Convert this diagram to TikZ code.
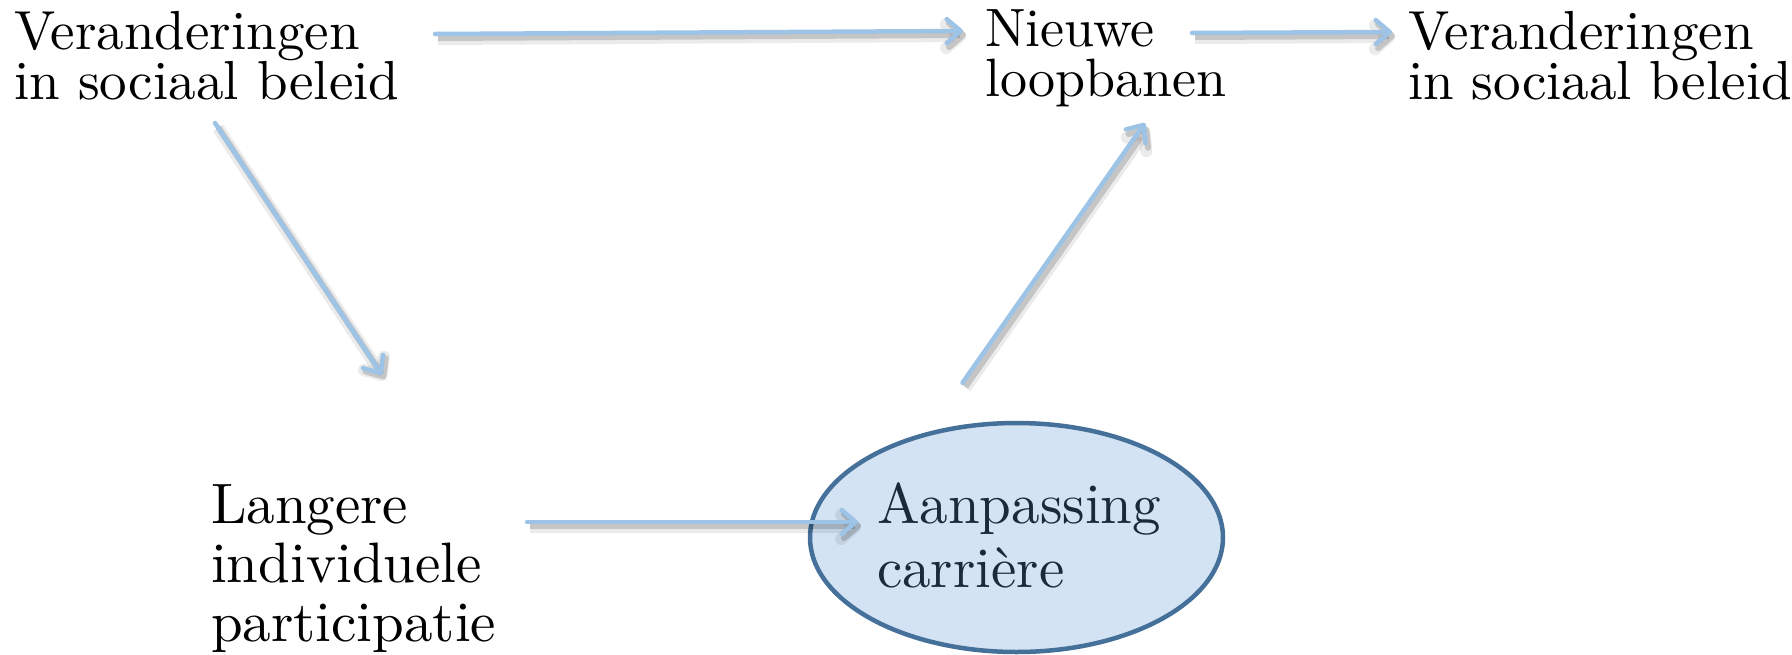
\documentclass[tikz,border=0pt]{standalone}
\usepackage{fontspec}
\setmainfont{lmroman10-regular.otf}
\usetikzlibrary{arrows.meta,shapes.geometric,calc}
\definecolor{arrowblue}{HTML}{9DC3E6}
\definecolor{ellfill}{HTML}{D3E3F3}
\definecolor{elldraw}{HTML}{44709A}
\definecolor{elltext}{HTML}{1B2A3A}
\tikzset{
  lbl/.style={anchor=base west, inner sep=0pt, outer sep=0pt},
  arr/.style={draw=arrowblue, line width=4.5pt, line cap=round, line join=round,
    -{Straight Barb[length=14pt,width=24pt,round]},
    preaction={draw=black, draw opacity=0.08, line width=12pt,
      transform canvas={shift={(3,5)}}},
    preaction={draw=black, draw opacity=0.16, line width=6pt,
      transform canvas={shift={(3,4)}}}},
}
\newcommand{\txt}[4]{\parbox[t]{#1pt}{\fontsize{#4}{#2}\selectfont\lineskiplimit=-100pt\raggedright #3}}
\begin{document}
\begin{tikzpicture}[x=1pt,y=-1pt]
\useasboundingbox (0,0) rectangle (1792,654);
% ellipse
\node[ellipse, draw=elldraw, line width=4.5pt, fill=ellfill, minimum width=413pt, minimum height=229pt, inner sep=0pt] (ell) at (1016.5,537.5) {};
% texts
\node[lbl] (v1) at (14,49) {\txt{400}{50}{Veranderingen\\in sociaal beleid}{55}};
\node[lbl] (nl) at (985,46) {\txt{300}{50}{Nieuwe\\loopbanen}{54}};
\node[lbl] (v2) at (1408,49) {\txt{384}{50}{Veranderingen\\in sociaal beleid}{55}};
\node[lbl] (lp) at (211,523) {\txt{320}{59}{Langere\\individuele\\participatie}{57}};
\node[lbl, text=elltext] (ac) at (877,523) {\txt{320}{64}{Aanpassing\\carri\`ere}{57}};
% arrows
\draw[arr] ($(v1.base west)+(421,-15)$) -- ($(nl.base west)+(-22,-15)$);
\draw[arr] ($(nl.base west)+(207,-13)$) -- ($(v2.base west)+(-16,-17)$);
\draw[arr] ($(v1.base west)+(201,74)$) -- ($(lp.base west)+(171,-148)$);
\draw[arr] ($(lp.base west)+(316,-1)$) -- ($(ac.base west)+(-19,-1)$);
\draw[arr] ($(ell.north)+(-54,-38)$) -- ($(nl.base west)+(160,77)$);
\end{tikzpicture}
\end{document}
